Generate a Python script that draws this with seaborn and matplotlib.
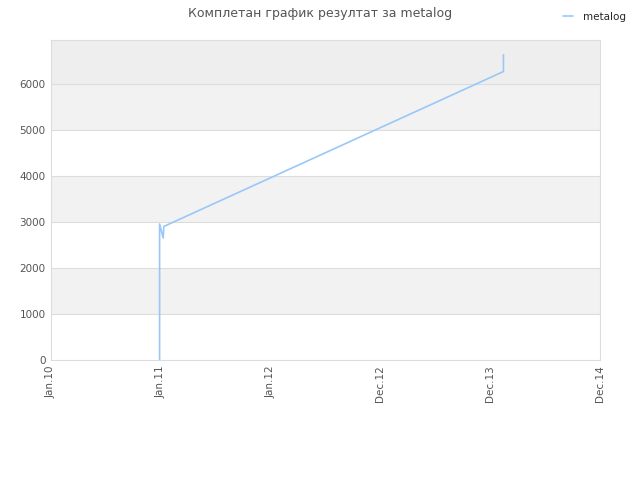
import matplotlib
matplotlib.use("Agg")
import seaborn as sns
import pandas as pd
import matplotlib.pyplot as plt

# values
dates = ["2010-12-28", "2010-12-28", "2010-12-28", "2010-12-28",
         "2011-01-09", "2011-01-11", "2014-02-13", "2014-02-13", "2014-02-13"]
scores = [0, 1200, 2240, 2955, 2650, 2900, 6265, 6450, 6630]
series_name = "metalog"
tick_dates = ["2010-01-01", "2011-01-01", "2012-01-01",
              "2012-12-31", "2013-12-31", "2014-12-31"]
tick_labels = ["Jan.10", "Jan.11", "Jan.12", "Dec.12", "Dec.13", "Dec.14"]
y_ticks = [0, 1000, 2000, 3000, 4000, 5000, 6000]

df = pd.DataFrame({"date": pd.to_datetime(dates), "score": scores})

sns.set_style("white")
plt.rcParams["font.family"] = ["DejaVu Sans"]

fig = plt.figure(figsize=(6.4, 4.8), dpi=100)
ax = fig.add_axes([51 / 640, 120 / 480, 549 / 640, 320 / 480])

ymax = 6950
# alternating background bands
for lo in range(1000, 6000, 2000):
    ax.axhspan(lo, lo + 1000, color="#f2f2f2", zorder=0, lw=0)
ax.axhspan(6000, ymax, color="#eeeeee", zorder=0, lw=0)
for yv in y_ticks[1:]:
    ax.axhline(yv, color="#dddddd", lw=0.8, zorder=1)

sns.lineplot(data=df, x="date", y="score", ax=ax, sort=False, estimator=None,
             color="#99c8f8", lw=1.2, label=series_name, zorder=3)

ax.set_xlim(pd.Timestamp("2010-01-01"), pd.Timestamp("2014-12-31"))
ax.set_ylim(0, ymax)
ax.set_xticks(pd.to_datetime(tick_dates))
ax.set_xticklabels(tick_labels, rotation=90, fontsize=7.5, color="#555555")
ax.set_yticks(y_ticks)
ax.set_yticklabels([str(v) for v in y_ticks], fontsize=7.5, color="#555555")
ax.tick_params(length=0, pad=4)
ax.set_xlabel("")
ax.set_ylabel("")
for s in ax.spines.values():
    s.set_color("#dddddd")
    s.set_linewidth(0.8)

fig.text(0.5, 0.972, "Комплетан график резултат за metalog", ha="center", va="center",
         fontsize=9, color="#555555")
ax.legend(loc="upper right", bbox_to_anchor=(0.992, 0.995), bbox_transform=fig.transFigure,
          frameon=False, fontsize=7.5, handlelength=1.0, handletextpad=0.9)

fig.savefig("out.png", dpi=100)
